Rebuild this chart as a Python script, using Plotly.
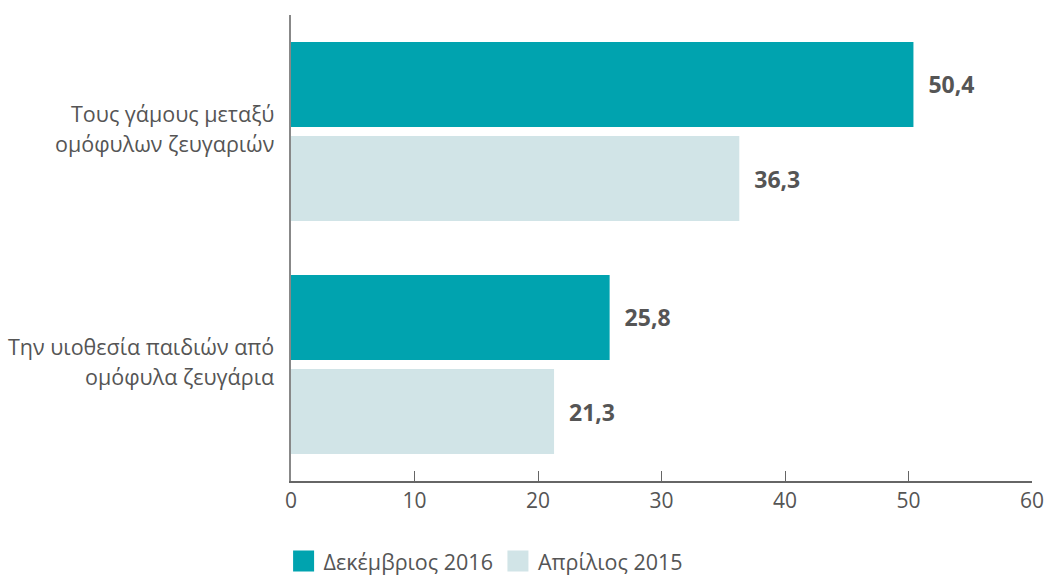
import plotly.graph_objects as go

category_lines = [["Τους γάμους μεταξύ", "ομόφυλων ζευγαριών"],
                  ["Την υιοθεσία παιδιών από", "ομόφυλα ζευγάρια"]]
categories = [" ".join(l) for l in category_lines]
series_names = ["Δεκέμβριος 2016", "Απρίλιος 2015"]
dec_2016 = [50.4, 25.8]
apr_2015 = [36.3, 21.3]
colors = ["#00A3AF", "#D1E4E7"]
tick_vals = [0, 10, 20, 30, 40, 50, 60]

FONT = "'Open Sans', Lato, 'Noto Sans', sans-serif"
TXT = "#555555"

def fmt(v):
    return "\u00a0\u00a0" + f"{v:.1f}".replace(".", ",")

fig = go.Figure()
for name, vals, col in zip(series_names, [dec_2016, apr_2015], colors):
    fig.add_trace(go.Bar(
        y=categories, x=vals, name=name, orientation="h",
        marker=dict(color=col, line=dict(width=0)),
        text=[fmt(v) for v in vals], textposition="outside",
        textfont=dict(family=FONT, size=23, color=TXT, weight="bold"),
        cliponaxis=False, showlegend=False,
    ))
# legend keys
for name, col in zip(series_names, colors):
    fig.add_trace(go.Scatter(
        x=[None], y=[None], mode="markers", name=name,
        marker=dict(symbol="square", size=16, color=col, line=dict(color=col, width=5)),
        showlegend=True,
    ))

annotations = []
for cat, lines in zip(categories, category_lines):
    for i, line in enumerate(lines):
        annotations.append(dict(
            xref="paper", x=0, yref="y", y=cat, text=line, showarrow=False,
            xanchor="right", yanchor="middle", xshift=-15,
            yshift=18 if i == 0 else -12,
            font=dict(family=FONT, size=21.5, color=TXT),
        ))

fig.update_layout(
    width=1047, height=578,
    margin=dict(l=291, r=15, t=15, b=97, autoexpand=False),
    barmode="group", bargap=0.193, bargroupgap=0.096,
    plot_bgcolor="white", paper_bgcolor="white",
    font=dict(family=FONT, color=TXT, size=21),
    annotations=annotations,
    legend=dict(orientation="h", x=-0.010, xanchor="left", y=-0.128, yanchor="top",
                font=dict(size=21.5, color=TXT), traceorder="normal",
                itemsizing="trace", tracegroupgap=0, itemwidth=30),
    xaxis=dict(range=[0, 60], tickvals=tick_vals, showgrid=False, zeroline=False,
               showline=True, linecolor="#666666", linewidth=1.5,
               ticks="inside", ticklen=10, tickcolor="#666666", tickwidth=1,
               tickfont=dict(size=21, color=TXT)),
    yaxis=dict(autorange="reversed", showgrid=False, zeroline=False,
               showline=True, linecolor="#888888", linewidth=2,
               ticks="", showticklabels=False, automargin=False),
)

fig.write_html("out.html", config={"displayModeBar": False},
               post_script="document.body.style.margin='0';")
